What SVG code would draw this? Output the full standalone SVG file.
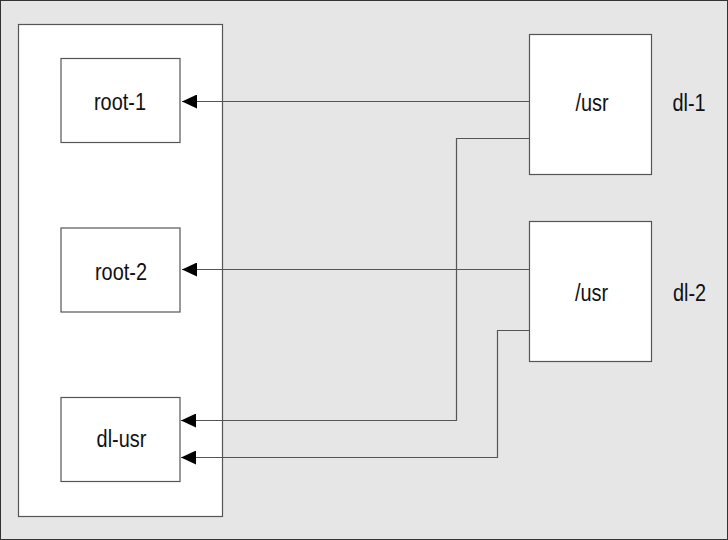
<svg xmlns="http://www.w3.org/2000/svg" width="728" height="540" viewBox="0 0 728 540">
<style>
.box{fill:#fff;stroke:#555;stroke-width:1.2}
.lbl{font-family:"Liberation Sans",Arial,sans-serif;font-size:24px;fill:#111;text-anchor:middle}
.con{fill:none;stroke:#555;stroke-width:1.2}
</style>
<defs>
<marker id="ah" viewBox="0 0 15 14" refX="15" refY="7" markerWidth="15" markerHeight="14" markerUnits="userSpaceOnUse" orient="auto">
<path d="M0,0 L15,7 L0,14 Z" fill="#000"/>
</marker>
</defs>
<rect x="0.5" y="0.5" width="727" height="539" fill="#e6e6e6" stroke="#333" stroke-width="1"/>
<g id="host"><rect class="box" x="18.5" y="24.5" width="204" height="492"/></g>
<g id="root-1"><rect class="box" x="61" y="58.5" width="119" height="84"/><text class="lbl" transform="translate(120,110) scale(0.83,1)">root-1</text></g>
<g id="root-2"><rect class="box" x="61" y="228" width="119" height="84"/><text class="lbl" transform="translate(121,280) scale(0.83,1)">root-2</text></g>
<g id="dl-usr"><rect class="box" x="61" y="397.5" width="119" height="84"/><text class="lbl" transform="translate(121.5,447) scale(0.83,1)">dl-usr</text></g>
<g id="dl-1"><rect class="box" x="529.5" y="34.5" width="122" height="140"/><text class="lbl" transform="translate(592,111) scale(0.83,1)">/usr</text><text class="lbl" transform="translate(689,111) scale(0.83,1)">dl-1</text></g>
<g id="dl-2"><rect class="box" x="529.5" y="221.5" width="122" height="140"/><text class="lbl" transform="translate(591.5,301) scale(0.83,1)">/usr</text><text class="lbl" transform="translate(689.5,301) scale(0.83,1)">dl-2</text></g>
<g id="connectors">
<path class="con" d="M529,101.5 H182" marker-end="url(#ah)"/>
<path class="con" d="M529,269.5 H182" marker-end="url(#ah)"/>
<path class="con" d="M529,138.5 H456.5 V420.5 H181" marker-end="url(#ah)"/>
<path class="con" d="M529,330.5 H497.5 V457.5 H181" marker-end="url(#ah)"/>
</g>
</svg>
